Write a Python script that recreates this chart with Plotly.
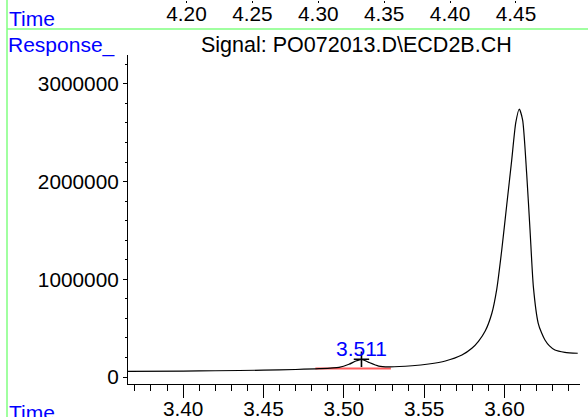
import plotly.graph_objects as go

# ---- data ----
time_min = [3.3657, 3.40, 3.42, 3.45, 3.47, 3.4846, 3.4970, 3.5032, 3.5075, 3.5112,
            3.5155, 3.5217, 3.5279, 3.5425, 3.5528, 3.5632, 3.5735, 3.5797, 3.5838,
            3.5880, 3.5921, 3.5952, 3.5983, 3.6014, 3.6045, 3.6070, 3.6092, 3.6113,
            3.6138, 3.6159, 3.6180, 3.6210, 3.6230, 3.6252, 3.6280, 3.6314, 3.6376,
            3.6456]
response = [58000, 61000, 64000, 70000, 77000, 85000, 99000, 130000, 164000, 181000,
            150000, 112000, 104000, 115000, 133000, 164000, 225000, 294000, 365000,
            470000, 650000, 900000, 1300000, 1760000, 2220000, 2600000, 2743000, 2630000,
            2085000, 1505000, 920000, 550000, 455000, 379000, 318000, 276000, 253000,
            243000]

peak_time = [3.511]
peak_resp = [181000]
peak_label = ["3.511"]

baseline_time = [3.4823, 3.5293]
baseline_resp = [86000, 88000]

y_tickvals = [0, 1000000, 2000000, 3000000]
y_ticktext = ["0", "1000000", "2000000", "3000000"]
x_tickvals = [3.40, 3.45, 3.50, 3.55, 3.60]
x_ticktext = ["3.40", "3.45", "3.50", "3.55", "3.60"]
top_tickvals = [4.20, 4.25, 4.30, 4.35, 4.40, 4.45]
top_ticktext = ["4.20", "4.25", "4.30", "4.35", "4.40", "4.45"]

signal_title = "Signal: PO072013.D\\ECD2B.CH"

FONT = "Liberation Sans, Arial, sans-serif"
FS_TICK = 20.8
FS_TITLE = 21.5
FS_LABEL = 21
BLUE = "#0000ff"
GREEN = "#80ff80"

W, H = 588, 417
ML, MR, MT, MB = 128, 8, 0, 33
PW = W - ML - MR
PH = H - MT - MB


def px_x(p):
    return (p - ML) / PW


def px_y(p):
    return (PH - p) / PH


fig = go.Figure()

fig.add_trace(go.Scatter(x=baseline_time, y=baseline_resp, mode="lines",
                         line=dict(color="rgb(255,90,90)", width=2),
                         hoverinfo="skip", showlegend=False))
fig.add_trace(go.Scatter(x=time_min, y=response, mode="lines",
                         line=dict(color="black", width=1.2, shape="spline", smoothing=0.6),
                         showlegend=False))
fig.add_trace(go.Scatter(x=peak_time, y=peak_resp, mode="markers",
                         marker=dict(symbol="cross-thin", size=11,
                                     line=dict(color="black", width=1.6)),
                         showlegend=False))
# invisible trace to activate the top (previous panel) time axis
fig.add_trace(go.Scatter(x=top_tickvals, y=[0] * len(top_tickvals), xaxis="x2", yaxis="y",
                         mode="markers", marker=dict(opacity=0), hoverinfo="skip",
                         showlegend=False))

fig.add_annotation(x=peak_time[0], y=peak_resp[0], text=peak_label[0], showarrow=False,
                   xanchor="center", yanchor="middle", yshift=11,
                   font=dict(family=FONT, size=FS_LABEL, color=BLUE))

# text labels
fig.add_annotation(xref="paper", yref="paper", x=px_x(7), y=px_y(19), text="Time",
                   showarrow=False, xanchor="left", yanchor="middle",
                   font=dict(family=FONT, size=FS_LABEL, color=BLUE))
fig.add_annotation(xref="paper", yref="paper", x=px_x(6), y=px_y(45), text="Response_",
                   showarrow=False, xanchor="left", yanchor="middle",
                   font=dict(family=FONT, size=FS_LABEL, color=BLUE))
fig.add_annotation(xref="paper", yref="paper", x=px_x(356), y=px_y(45), text=signal_title,
                   showarrow=False, xanchor="center", yanchor="middle",
                   font=dict(family=FONT, size=FS_TITLE, color="black"))
fig.add_annotation(xref="paper", yref="paper", x=px_x(7), y=px_y(412), text="Time",
                   showarrow=False, xanchor="left", yanchor="middle",
                   font=dict(family=FONT, size=FS_LABEL, color=BLUE))

# green frame lines
fig.add_shape(type="line", xref="paper", yref="paper", x0=px_x(7), x1=px_x(7),
              y0=px_y(0), y1=px_y(H), line=dict(color=GREEN, width=1.5))
fig.add_shape(type="line", xref="paper", yref="paper", x0=px_x(7), x1=px_x(W),
              y0=px_y(29), y1=px_y(29), line=dict(color=GREEN, width=1.5))

fig.update_layout(
    width=W, height=H,
    margin=dict(l=ML, r=MR, t=MT, b=MB, pad=0, autoexpand=False),
    paper_bgcolor="white", plot_bgcolor="white",
    font=dict(family=FONT, size=FS_TICK, color="black"),
    showlegend=False,
    xaxis=dict(range=[3.3657, 3.647], tickvals=x_tickvals, ticktext=x_ticktext,
               ticks="outside", ticklen=13, tickwidth=1, tickcolor="black",
               showline=True, linecolor="black", linewidth=1, showgrid=False,
               zeroline=False, anchor="y", automargin=False, ticklabelstandoff=-7,
               minor=dict(dtick=0.01, tick0=3.40, ticks="outside", ticklen=6,
                          tickwidth=1, tickcolor="black", showgrid=False),
               tickfont=dict(family=FONT, size=FS_TICK, color="black")),
    xaxis2=dict(range=[4.1556, 4.4986], overlaying="x", anchor="free", position=1,
                side="bottom", tickvals=top_tickvals, ticktext=top_ticktext,
                ticks="outside", ticklen=2, tickcolor="black", showline=False,
                showgrid=False, zeroline=False, automargin=False, ticklabelstandoff=-7,
                tickfont=dict(family=FONT, size=FS_TICK, color="black")),
    yaxis=dict(range=[-71600, 3295800], domain=[0, (PH - 55) / PH],
               tickvals=y_tickvals, ticktext=y_ticktext,
               ticks="outside", ticklen=4, tickwidth=1, tickcolor="black",
               showline=True, linecolor="black", linewidth=1, showgrid=False,
               zeroline=False, automargin=False,
               minor=dict(dtick=200000, tick0=0, ticks="outside", ticklen=2,
                          tickwidth=1, tickcolor="black", showgrid=False),
               tickfont=dict(family=FONT, size=FS_TICK, color="black")),
)

fig.write_html("out.html", config={"displayModeBar": False},
               post_script="document.body.style.margin='0';document.body.style.overflow='hidden';")
